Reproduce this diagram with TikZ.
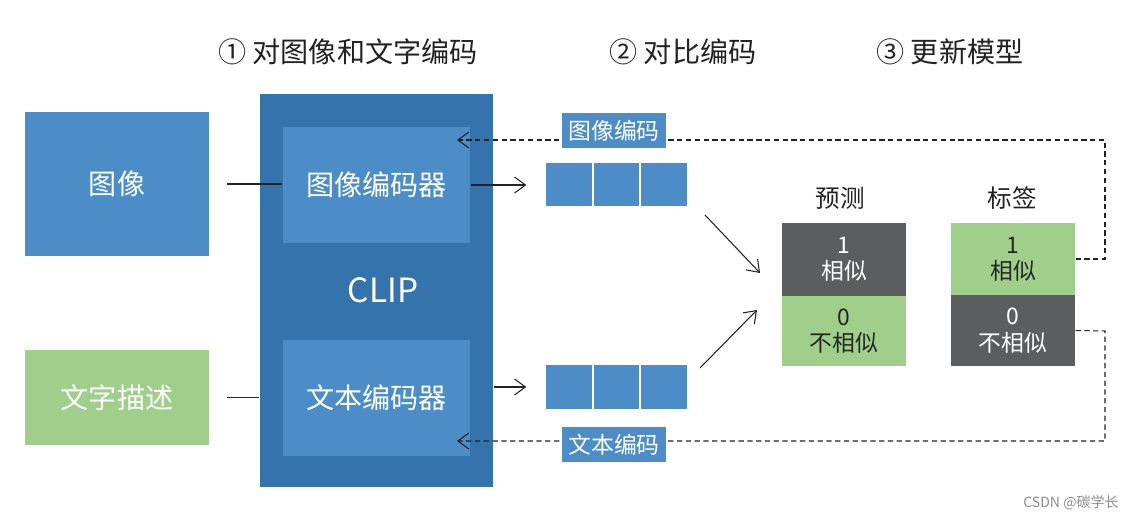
\documentclass[tikz,border=0pt]{standalone}
\usepackage{fontspec}
\setmainfont{Noto Sans CJK SC}
\usetikzlibrary{arrows.meta}

\definecolor{clipblue}{HTML}{3573AD}
\definecolor{encblue}{HTML}{4C8DC8}
\definecolor{leafgreen}{HTML}{9FCF8B}
\definecolor{slate}{HTML}{5C5D5F}
\definecolor{ink}{HTML}{222222}

\tikzset{
    block/.style = {inner sep = 0pt, text = white, align = center},
    cell/.style = {block, fill = encblue, draw = white, line width = 1pt,
                   minimum width = 0.95cm, minimum height = 0.9cm},
    tag/.style = {block, fill = encblue, minimum width = 2.08cm,
                  minimum height = 0.7cm, font = \fontsize{13}{15}\selectfont},
    score/.style = {block, minimum width = 2.48cm,
                    font = \fontsize{13}{15}\selectfont},
}

\begin{document}
\begin{tikzpicture}[%
        x = 0.02cm,
        y = -0.02cm,
        line width = 0.6pt,
        > = {Straight Barb[length = 2.2mm, width = 3.2mm]}
    ]

        \useasboundingbox (0, 0) rectangle (1140, 519);

        % Headings for the three stages.
        \node[text = ink, font = \fontsize{16}{18}\selectfont] (h1) at (348, 52) {① 对图像和文字编码};
        \node[text = ink, font = \fontsize{16}{18}\selectfont] (h2) at (683, 52) {② 对比编码};
        \node[text = ink, font = \fontsize{16}{18}\selectfont] (h3) at (950, 52) {③ 更新模型};

        % Inputs on the left.
        \node[block, fill = encblue, minimum width = 3.68cm, minimum height = 2.88cm,
              font = \fontsize{16}{18}\selectfont] (img) at (117, 184) {图像};
        \node[block, fill = leafgreen, minimum width = 3.68cm, minimum height = 1.9cm,
              font = \fontsize{16}{18}\selectfont] (txt) at (117, 397.5) {文字描述};

        % The CLIP model with its two encoders.
        \node[block, fill = clipblue, minimum width = 4.66cm, minimum height = 7.86cm] (clip) at (376.5, 290.5) {};
        \node[block, fill = encblue, minimum width = 3.74cm, minimum height = 2.32cm,
              font = \fontsize{16}{18}\selectfont] (imgenc) at (376.5, 185) {图像编码器};
        \node[block, fill = encblue, minimum width = 3.74cm, minimum height = 2.32cm,
              font = \fontsize{16}{18}\selectfont] (txtenc) at (376.5, 398) {文本编码器};
        \node[text = white, font = \fontsize{19}{22}\selectfont] (cliplabel) at (383, 290) {CLIP};

        % Embedding vectors.
        \foreach \i in {0, 1, 2} {
            \node[cell] (it\i) at ({569 + 47.5*\i}, 184.5) {};
            \node[cell] (tt\i) at ({569 + 47.5*\i}, 387) {};
        }

        % Predictions and labels.
        \node[text = ink, font = \fontsize{14}{16}\selectfont] (predhead) at (840, 198) {预测};
        \node[text = ink, font = \fontsize{14}{16}\selectfont] (labhead) at (1012, 198) {标签};
        \node[score, fill = slate, minimum height = 1.46cm] (p1) at (844, 259.5) {1\\相似};
        \node[score, fill = leafgreen, text = black!85, minimum height = 1.4cm] (p0) at (844, 331) {0\\不相似};
        \node[score, fill = leafgreen, text = black!85, minimum height = 1.44cm] (l1) at (1013, 259) {1\\相似};
        \node[score, fill = slate, minimum height = 1.42cm] (l0) at (1013, 330.5) {0\\不相似};

        % Inputs into the encoders.
        \draw[ink, shorten < = 0.34cm] (img.east) -- (img.east -| imgenc.west);
        \draw[ink, shorten < = 0.34cm] (txt.east) -- (txt.east -| clip.west);

        % Encoders out to the embeddings.
        \draw[->, ink, shorten > = 0.36cm] (imgenc.east) -- (imgenc.east -| it0.west);
        \draw[->, ink, shorten > = 0.36cm] (clip.east |- tt0.west) -- (tt0.west);

        % Both embeddings meet in the prediction.
        \coordinate (da) at (705, 215);
        \coordinate (db) at (760, 273);
        \coordinate (dc) at (700, 368);
        \coordinate (dd) at (757, 310);
        \draw[->, ink] (da) -- (db);
        \draw[->, ink] (dc) -- (dd);

        % Feedback from the labels to the encoders.
        \coordinate (fbi) at (457, 140);
        \coordinate (fbt) at (457, 441);
        \begin{scope}[densely dashed, ink, line width = 0.6pt]
            \draw[->] (l1.east) -- (1105, 259) |- (fbi);
            \draw[->] (l0.east) -- (1105, 331) |- (fbt);
        \end{scope}
        \node[tag] (imgcode) at (614, 130.5) {图像编码};
        \node[tag] (txtcode) at (614, 445) {文本编码};

        % Watermark.
        \node[text = black!45, font = \fontsize{8}{10}\selectfont] (mark) at (1071, 503) {CSDN @碳学长};
    \end{tikzpicture}
\end{document}
